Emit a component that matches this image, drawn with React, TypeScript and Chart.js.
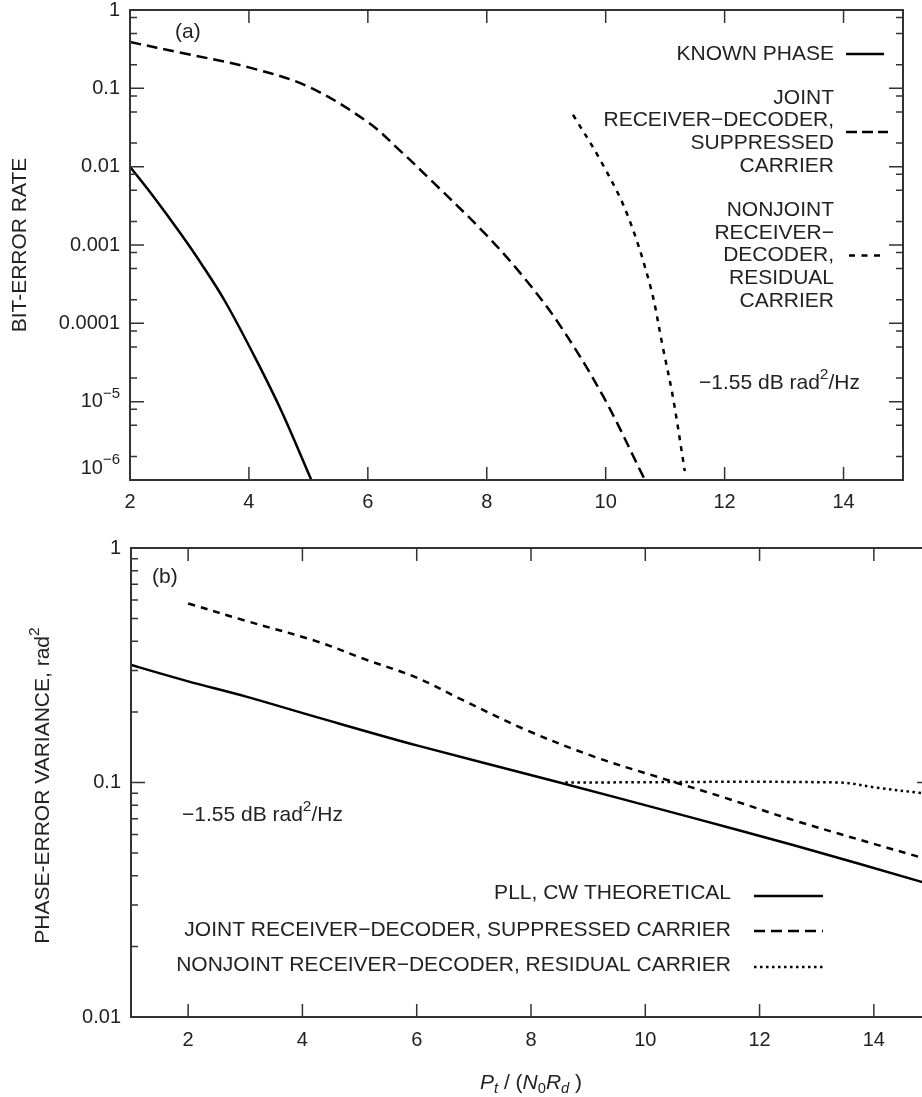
import React, { useEffect, useRef } from 'react';
import { Chart, registerables } from 'chart.js';
Chart.register(...registerables);

// ---------------- Panel (a): bit-error rate ----------------
const knownPhaseX = [2, 2.4, 2.85, 3.2, 3.6, 4.1, 4.55, 5.05];
const knownPhaseY = [1e-2, 4.1e-3, 1.4e-3, 5.75e-4, 1.9e-4, 3.7e-5, 7.5e-6, 1e-6];

const jointAX = [2, 2.9, 4, 5, 6, 6.55, 7.1, 7.95, 8.55, 9.2, 9.95, 10.66];
const jointAY = [0.39, 0.28, 0.185, 0.105, 0.037, 0.0158, 0.0063, 1.45e-3, 4.5e-4, 1.02e-4, 1.2e-5, 1e-6];

const nonjointAX = [9.45, 9.9, 10.35, 10.75, 10.96, 11.13, 11.33];
const nonjointAY = [0.046, 0.0125, 2.6e-3, 3e-4, 5e-5, 1.15e-5, 1.3e-6];

const topXTicks = [2, 4, 6, 8, 10, 12, 14];
const topYMajor = [1, 0.1, 0.01, 0.001, 0.0001, 1e-5, 1e-6];
const topYLabels = ['1', '0.1', '0.01', '0.001', '0.0001', '10^−5', '10^−6'];
const topYMinorMult = [0.8, 0.5, 0.2];
const topLegendLabels = [
  ['KNOWN PHASE'],
  ['JOINT', 'RECEIVER−DECODER,', 'SUPPRESSED', 'CARRIER'],
  ['NONJOINT', 'RECEIVER−', 'DECODER,', 'RESIDUAL', 'CARRIER'],
];
const topYTitle = 'BIT-ERROR RATE';
const topPanelTag = '(a)';

// ---------------- Panel (b): phase-error variance ----------------
const pllX = [1, 2, 3, 4.25, 6, 8.5, 10.8, 12.6, 14.85, 15];
const pllY = [0.317, 0.27, 0.233, 0.19, 0.144, 0.1, 0.071, 0.054, 0.0376, 0.0367];

const jointBX = [2, 3, 4.25, 5.1, 6, 6.8, 7.9, 9.1, 10.25, 11.4, 12.6, 14.85, 15];
const jointBY = [0.58, 0.49, 0.4, 0.335, 0.28, 0.225, 0.168, 0.129, 0.105, 0.086, 0.069, 0.0477, 0.0467];

const nonjointBX = [8.6, 13.4, 14.05, 14.85, 15];
const nonjointBY = [0.1, 0.1, 0.095, 0.09, 0.089];

const botXTicks = [2, 4, 6, 8, 10, 12, 14];
const botYMajor = [1, 0.1, 0.01];
const botYLabels = ['1', '0.1', '0.01'];
const botYMinorMult = [0.9, 0.8, 0.7, 0.6, 0.5, 0.4, 0.3, 0.2];
const botLegendLabels = [
  'PLL, CW THEORETICAL',
  'JOINT RECEIVER−DECODER, SUPPRESSED CARRIER',
  'NONJOINT RECEIVER−DECODER, RESIDUAL CARRIER',
];
const botYTitleParts = [{ t: 'PHASE-ERROR VARIANCE, rad' }, { t: '2', sup: true }];
const botPanelTag = '(b)';

const noiseNote = [{ t: '−1.55 dB rad' }, { t: '2', sup: true }, { t: '/Hz' }];
const xTitleParts = [
  { t: 'P', it: true },
  { t: 't', it: true, sub: true },
  { t: ' / (' },
  { t: 'N', it: true },
  { t: '0', sub: true },
  { t: 'R', it: true },
  { t: 'd', it: true, sub: true },
  { t: ' )' },
];

// ---------------- styling ----------------
const FONT = '"Liberation Sans", Arial, Helvetica, sans-serif';
const TEXT = '#222';
const FRAME = '#333';
const LINE = '#000';

type Part = { t: string; it?: boolean; sub?: boolean; sup?: boolean };

function richText(ctx: CanvasRenderingContext2D, parts: Part[], x: number, y: number, size: number, align: 'left' | 'right' | 'center') {
  const fontFor = (p: Part) => {
    const s = p.sub ? size * 0.7 : p.sup ? size * 0.74 : size;
    return `${p.it ? 'italic ' : ''}${s}px ${FONT}`;
  };
  const widths = parts.map((p) => {
    ctx.font = fontFor(p);
    return ctx.measureText(p.t).width;
  });
  const total = widths.reduce((a, b) => a + b, 0);
  let cx = align === 'left' ? x : align === 'right' ? x - total : x - total / 2;
  ctx.textAlign = 'left';
  ctx.textBaseline = 'middle';
  parts.forEach((p, i) => {
    ctx.font = fontFor(p);
    const dy = p.sub ? size * 0.3 : p.sup ? -size * 0.38 : 0;
    ctx.fillText(p.t, cx, y + dy);
    cx += widths[i];
  });
}

function sample(ctx: CanvasRenderingContext2D, x0: number, x1: number, y: number, dash: number[], w: number) {
  ctx.save();
  ctx.strokeStyle = LINE;
  ctx.lineWidth = w;
  ctx.setLineDash(dash);
  ctx.beginPath();
  ctx.moveTo(x0, y);
  ctx.lineTo(x1, y);
  ctx.stroke();
  ctx.restore();
}

function frameAndTicks(chart: any, xMajor: number[], yMajor: number[], yMinor: number[]) {
  const { ctx, chartArea: a, scales } = chart;
  const xs = scales.x;
  const ys = scales.y;
  ctx.save();
  ctx.strokeStyle = FRAME;
  ctx.lineWidth = 2;
  ctx.strokeRect(a.left, a.top, a.right - a.left, a.bottom - a.top);
  ctx.lineWidth = 1.5;
  ctx.beginPath();
  xMajor.forEach((v) => {
    const p = xs.getPixelForValue(v);
    if (p <= a.left + 1 || p >= a.right - 1) return;
    ctx.moveTo(p, a.bottom);
    ctx.lineTo(p, a.bottom - 13);
    ctx.moveTo(p, a.top);
    ctx.lineTo(p, a.top + 13);
  });
  yMajor.forEach((v) => {
    const p = ys.getPixelForValue(v);
    ctx.moveTo(a.left, p);
    ctx.lineTo(a.left + 14, p);
    ctx.moveTo(a.right, p);
    ctx.lineTo(a.right - 14, p);
  });
  yMinor.forEach((v) => {
    const p = ys.getPixelForValue(v);
    ctx.moveTo(a.left, p);
    ctx.lineTo(a.left + 7, p);
    ctx.moveTo(a.right, p);
    ctx.lineTo(a.right - 7, p);
  });
  ctx.stroke();
  ctx.restore();
}

const pts = (xs: number[], ys: number[]) => xs.map((x, i) => ({ x, y: ys[i] }));

const minorFrom = (majors: number[], mults: number[], lo: number) => {
  const out: number[] = [];
  majors.forEach((m) => mults.forEach((k) => { const v = m * k; if (v > lo * 1.0001) out.push(v); }));
  return out;
};

const labelFor = (majors: number[], labels: string[], v: number) => {
  const i = majors.findIndex((m) => Math.abs(Math.log10(m) - Math.log10(v)) < 1e-6);
  return i >= 0 ? labels[i] : '';
};

const ds = (label: string, data: any[], dash: number[], width = 2.5) => ({
  label,
  data,
  borderColor: LINE,
  borderWidth: width,
  borderDash: dash,
  pointRadius: 0,
  fill: false,
  tension: 0.35,
});

const fitY = (w: number) => (s: any) => {
  s.width = w;
  s.paddingTop = 0;
  s.paddingBottom = 0;
};
const fitX = (h: number) => (s: any) => {
  s.height = h;
  s.paddingLeft = 0;
  s.paddingRight = 0;
};

function topConfig(): any {
  const topMinor = minorFrom(topYMajor, topYMinorMult, 1e-6);
  const plugin = {
    id: 'topDecor',
    afterDraw(chart: any) {
      const { ctx, chartArea: a, scales } = chart;
      frameAndTicks(chart, topXTicks, topYMajor, topMinor);
      ctx.save();
      ctx.fillStyle = TEXT;
      // superscripted y tick labels
      topYMajor.forEach((v, i) => {
        const l = topYLabels[i];
        if (!l.includes('^')) return;
        const [base, exp] = l.split('^');
        let py = scales.y.getPixelForValue(v);
        if (py > a.bottom - 12) py = a.bottom - 12;
        ctx.font = `20px ${FONT}`;
        const wb = ctx.measureText(base).width;
        ctx.font = `15px ${FONT}`;
        const we = ctx.measureText(exp).width;
        const x0 = a.left - 10 - wb - we;
        ctx.textAlign = 'left';
        ctx.textBaseline = 'middle';
        ctx.font = `20px ${FONT}`;
        ctx.fillText(base, x0, py);
        ctx.font = `15px ${FONT}`;
        ctx.fillText(exp, x0 + wb, py - 8);
      });
      // panel tag
      ctx.font = `21px ${FONT}`;
      ctx.textAlign = 'left';
      ctx.textBaseline = 'middle';
      ctx.fillText(topPanelTag, 175, 32);
      // legend
      const dashes = [[], [11, 5], [6, 6.5]];
      const spans = [[846, 884], [846, 888], [849, 881]];
      let y = 54;
      topLegendLabels.forEach((g, gi) => {
        ctx.font = `21px ${FONT}`;
        ctx.textAlign = 'right';
        ctx.textBaseline = 'middle';
        ctx.fillStyle = TEXT;
        const ys = g.map((_, i) => y + i * 22.7);
        g.forEach((l, i) => ctx.fillText(l, 834, ys[i]));
        const cy = (ys[0] + ys[ys.length - 1]) / 2;
        sample(ctx, spans[gi][0], spans[gi][1], cy, dashes[gi], 2.5);
        y = ys[ys.length - 1] + 44;
      });
      ctx.fillStyle = TEXT;
      richText(ctx, noiseNote, 699, 383, 21, 'left');
      ctx.restore();
    },
  };
  return {
    type: 'line',
    data: {
      datasets: [
        ds('KNOWN PHASE', pts(knownPhaseX, knownPhaseY), []),
        ds('JOINT RECEIVER−DECODER, SUPPRESSED CARRIER', pts(jointAX, jointAY), [11, 6]),
        ds('NONJOINT RECEIVER−DECODER, RESIDUAL CARRIER', pts(nonjointAX, nonjointAY), [5, 6]),
      ],
    },
    options: {
      responsive: false,
      animation: false,
      devicePixelRatio: 1,
      events: [],
      layout: { padding: { left: 0, top: 10, right: 19, bottom: 0 } },
      plugins: { legend: { display: false }, tooltip: { enabled: false } },
      scales: {
        x: {
          type: 'linear',
          min: 2,
          max: 15,
          afterBuildTicks: (s: any) => { s.ticks = topXTicks.map((v) => ({ value: v })); },
          afterFit: fitX(50),
          grid: { display: false, drawTicks: false },
          border: { display: false },
          ticks: { color: TEXT, font: { family: FONT, size: 20 }, padding: 10, maxRotation: 0, autoSkip: false, callback: (v: any) => String(v) },
        },
        y: {
          type: 'logarithmic',
          min: 1e-6,
          max: 1,
          afterBuildTicks: (s: any) => { s.ticks = topYMajor.map((v) => ({ value: v })); },
          afterFit: fitY(130),
          grid: { display: false, drawTicks: false },
          border: { display: false },
          title: { display: true, text: topYTitle, color: TEXT, font: { family: FONT, size: 21 }, padding: { top: 8, bottom: 0 } },
          ticks: {
            color: TEXT,
            font: { family: FONT, size: 20 },
            padding: 10,
            autoSkip: false,
            callback: (v: any) => { const l = labelFor(topYMajor, topYLabels, v); return l.includes('^') ? '' : l; },
          },
        },
      },
    },
    plugins: [plugin],
  };
}

function botConfig(): any {
  const botMinor = minorFrom(botYMajor, botYMinorMult, 0.01);
  const plugin = {
    id: 'botDecor',
    afterDraw(chart: any) {
      const { ctx, chartArea: a } = chart;
      frameAndTicks(chart, botXTicks, botYMajor, botMinor);
      ctx.save();
      ctx.fillStyle = TEXT;
      ctx.font = `21px ${FONT}`;
      ctx.textAlign = 'left';
      ctx.textBaseline = 'middle';
      ctx.fillText(botPanelTag, 152, 47);
      richText(ctx, noiseNote, 182, 285, 21, 'left');
      const textY = [363, 400, 435];
      const lineY = [366, 401, 437];
      const dashes = [[], [11, 6], [2.5, 3.5]];
      botLegendLabels.forEach((l, i) => {
        ctx.fillStyle = TEXT;
        ctx.font = `21px ${FONT}`;
        ctx.textAlign = 'right';
        ctx.textBaseline = 'middle';
        ctx.fillText(l, 731, textY[i]);
        sample(ctx, 754, 823, lineY[i], dashes[i], 2.5);
      });
      ctx.fillStyle = TEXT;
      richText(ctx, xTitleParts, (a.left + a.right) / 2, 553, 21, 'center');
      // rotated y-axis title with superscript
      ctx.save();
      ctx.translate(43, (a.top + a.bottom) / 2 + 3);
      ctx.rotate(-Math.PI / 2);
      richText(ctx, botYTitleParts, 0, 0, 21, 'center');
      ctx.restore();
      ctx.restore();
    },
  };
  return {
    type: 'line',
    data: {
      datasets: [
        ds('PLL, CW THEORETICAL', pts(pllX, pllY), []),
        ds('JOINT RECEIVER−DECODER, SUPPRESSED CARRIER', pts(jointBX, jointBY), [7, 6]),
        ds('NONJOINT RECEIVER−DECODER, RESIDUAL CARRIER', pts(nonjointBX, nonjointBY), [2.5, 3.5]),
      ],
    },
    options: {
      responsive: false,
      animation: false,
      devicePixelRatio: 1,
      events: [],
      layout: { padding: { left: 0, top: 18, right: 19, bottom: 0 } },
      plugins: { legend: { display: false }, tooltip: { enabled: false } },
      scales: {
        x: {
          type: 'linear',
          min: 1,
          max: 15,
          afterBuildTicks: (s: any) => { s.ticks = botXTicks.map((v) => ({ value: v })); },
          afterFit: fitX(80),
          grid: { display: false, drawTicks: false },
          border: { display: false },
          ticks: { color: TEXT, font: { family: FONT, size: 20 }, padding: 11, maxRotation: 0, autoSkip: false, callback: (v: any) => String(v) },
        },
        y: {
          type: 'logarithmic',
          min: 0.01,
          max: 1,
          afterBuildTicks: (s: any) => { s.ticks = botYMajor.map((v) => ({ value: v })); },
          afterFit: fitY(131),
          grid: { display: false, drawTicks: false },
          border: { display: false },
          ticks: {
            color: TEXT,
            font: { family: FONT, size: 20 },
            padding: 10,
            autoSkip: false,
            callback: (v: any) => labelFor(botYMajor, botYLabels, v),
          },
        },
      },
    },
    plugins: [plugin],
  };
}

export default function App() {
  const topRef = useRef<HTMLCanvasElement>(null);
  const botRef = useRef<HTMLCanvasElement>(null);
  useEffect(() => {
    const c1 = new Chart(topRef.current as HTMLCanvasElement, topConfig());
    const c2 = new Chart(botRef.current as HTMLCanvasElement, botConfig());
    return () => {
      c1.destroy();
      c2.destroy();
    };
  }, []);
  return (
    <div style={{ position: 'absolute', left: 0, top: 0, width: 922, height: 1097, overflow: 'hidden', background: '#fff' }}>
      <canvas ref={topRef} width={922} height={530} style={{ position: 'absolute', left: 0, top: 0, width: 922, height: 530 }} />
      <canvas ref={botRef} width={950} height={567} style={{ position: 'absolute', left: 0, top: 530, width: 950, height: 567 }} />
    </div>
  );
}
